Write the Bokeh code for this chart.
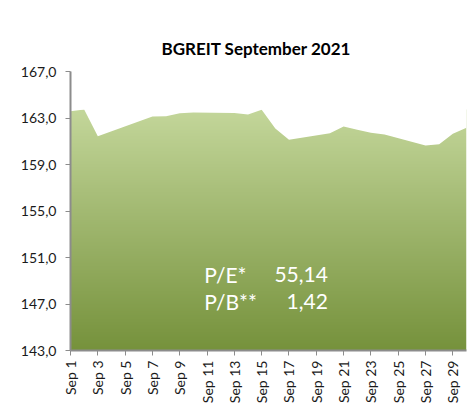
import numpy as np
from bokeh.plotting import figure
from bokeh.models import Range1d, FixedTicker, Label, Title
from bokeh.embed import file_html
from bokeh.resources import INLINE

# ---- data ----
days = [1, 2, 3, 7, 8, 9, 10, 13, 14, 15, 16, 17, 20, 21, 22, 23, 24, 27, 28, 29, 30]
prices = [163.59, 163.73, 161.44, 163.12, 163.15, 163.41, 163.47, 163.42, 163.30, 163.70,
          162.10, 161.13, 161.68, 162.27, 161.98, 161.73, 161.58, 160.63, 160.75, 161.64, 162.16]
x_ticks = list(range(1, 30, 2))
x_tick_labels = ["Sep %d" % d for d in x_ticks]
y_ticks = [143, 147, 151, 155, 159, 163, 167]
y_tick_labels = ["143,0", "147,0", "151,0", "155,0", "159,0", "163,0", "167,0"]
ratio_names = ["P/E*", "P/B**"]
ratio_values = ["55,14", "1,42"]
title_text = "BGREIT September 2021"

FONT = "Lato"

p = figure(width=470, height=419, output_backend="svg", toolbar_location=None,
           x_range=Range1d(1, 30), y_range=Range1d(143, 167),
           min_border_left=70, min_border_right=4, min_border_top=71, min_border_bottom=69)
p.background_fill_color = "white"
p.border_fill_color = "white"
p.outline_line_color = None
p.grid.visible = False

t = Title(text=title_text, align="left", text_font=FONT, text_font_size="17px",
          text_font_style="bold", text_color="black", offset=91, standoff=26)
p.add_layout(t, "above")

# gradient fill under the area: image, then white mask above the series
ytop = max(prices)
n = 300
frac = np.linspace(0, 1, n)
c_bot = np.array([118, 146, 60])
c_top = np.array([196, 215, 155])
cols = (c_bot[None, :] * (1 - frac[:, None]) + c_top[None, :] * frac[:, None]).astype(np.uint32)
img = np.zeros((n, 2), dtype=np.uint32)
view = img.view(dtype=np.uint8).reshape((n, 2, 4))
for j in range(2):
    view[:, j, 0] = cols[:, 0]
    view[:, j, 1] = cols[:, 1]
    view[:, j, 2] = cols[:, 2]
    view[:, j, 3] = 255
p.image_rgba(image=[img], x=days[0], y=143, dw=days[-1] - days[0], dh=ytop - 143)
p.varea(x=days, y1=prices, y2=167, fill_color="white")

# axes
for ax in (p.xaxis[0], p.yaxis[0]):
    ax.axis_line_color = "#8c8c8c"
    ax.axis_line_width = 2
    ax.major_tick_line_color = "#8c8c8c"
    ax.major_tick_line_width = 1
    ax.major_tick_in = 0
    ax.major_tick_out = 5
    ax.minor_tick_line_color = None
    ax.major_label_text_font = FONT
    ax.major_label_text_font_size = "14px"
    ax.major_label_text_color = "#1a1a1a"

p.yaxis.ticker = FixedTicker(ticks=y_ticks)
p.yaxis.major_label_overrides = {v: s for v, s in zip(y_ticks, y_tick_labels)}
p.yaxis.major_label_standoff = 9
p.xaxis.ticker = FixedTicker(ticks=x_ticks)
p.xaxis.major_label_overrides = {v: s for v, s in zip(x_ticks, x_tick_labels)}
p.xaxis.major_label_orientation = np.pi / 2
p.xaxis.major_label_standoff = 5

# ratio annotations
for i, (nm, val) in enumerate(zip(ratio_names, ratio_values)):
    yy = 149.55 - i * 2.32
    p.add_layout(Label(x=10.8, y=yy, text=nm, text_color="white", text_font=FONT,
                       text_font_size="21px", text_baseline="alphabetic"))
    p.add_layout(Label(x=19.85, y=yy, text=val, text_color="white", text_font=FONT,
                       text_font_size="21px", text_align="right", text_baseline="alphabetic"))

open("out.html", "w").write(file_html(p, INLINE))
